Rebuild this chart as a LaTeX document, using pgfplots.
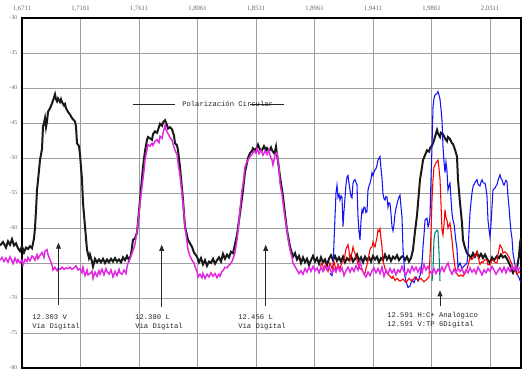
\documentclass[border=0pt]{standalone}
\usepackage{fontspec}
\setmainfont{Liberation Serif}
\newfontfamily\monofont{Liberation Mono}
\usepackage{pgfplots}
\pgfplotsset{compat=1.18}
\usetikzlibrary{arrows.meta}
\definecolor{cblack}{RGB}{25,25,25}
\definecolor{cmag}{RGB}{225,40,225}
\definecolor{cblue}{RGB}{20,20,245}
\definecolor{cred}{RGB}{250,0,0}
\definecolor{cteal}{RGB}{0,128,120}
\begin{document}
\begin{tikzpicture}
\begin{axis}[
  scale only axis, width=374.25pt, height=262.5pt,
  xmin=22, xmax=521, ymin=-80, ymax=-30,
  clip=false,
  axis line style={black, line width=0.8pt},
  xtick={22,80.5,139,197.5,256,314.5,373,431.5,490},
  xticklabels={{1,6711},{1,7161},{1,7611},{1,8061},{1,8511},{1,8961},{1,9411},{1,9861},{2,0311}},
  xticklabel pos=upper,
  ytick={-80,-75,-70,-65,-60,-55,-50,-45,-40,-35,-30},
  yticklabels={-80,-75,-70,-65,-60,-55,-50,-45,-40,-35,-30},
  grid=major, grid style={color=black!38, line width=0.7pt},
  major tick length=0pt,
  xticklabel style={color=black!60, font=\fontsize{5}{5}\selectfont, yshift=1pt},
  yticklabel style={color=black!60, font=\fontsize{4.3}{5}\selectfont},
]
\addplot[cblack, line width=1.5pt] coordinates {
(0,-62.5) (3,-62.0) (6,-62.8) (8,-61.9) (10,-62.4) (12,-61.6) (14,-62.5) (16,-62.2) (18,-62.9) (20,-63.3)
(22,-62.6) (24,-63.5) (26,-62.8) (28,-63.0) (30,-62.6) (32,-62.9) (34,-61.5) (35,-60.0) (36,-57.5) (37,-54.6)
(38,-53.2) (40,-50.3) (42,-48.7) (43,-45.5) (44,-45.0) (45,-44.3) (46,-45.6) (47,-44.8) (48,-43.4) (50,-42.9)
(52,-42.2) (53,-41.8) (55,-40.9) (56,-41.6) (57,-41.9) (58,-41.5) (60,-42.0) (61,-41.6) (62,-42.0) (64,-42.5)
(65,-42.3) (66,-42.9) (68,-43.4) (70,-43.8) (72,-44.3) (75,-44.8) (76,-45.5) (77,-47.9) (79,-48.3) (80,-49.5)
(82,-53.1) (83,-56.4) (85,-59.8) (87,-63.1) (89,-64.3) (90,-63.8) (92,-64.8) (93,-65.5) (95,-64.4) (97,-64.9)
(99,-64.5) (101,-64.9) (103,-64.4) (105,-65.0) (107,-64.5) (109,-64.9) (111,-64.4) (113,-64.8) (115,-64.3) (117,-64.8)
(119,-64.5) (121,-64.9) (123,-64.2) (125,-64.6) (127,-64.0) (129,-64.6) (131,-63.8) (133,-61.7) (135,-61.5) (137,-60.7)
(140,-56.0) (143,-51.3) (145,-49.0) (147,-47.4) (148,-47.0) (150,-47.2) (152,-47.4) (153,-46.6) (155,-46.2) (157,-46.4)
(158,-46.0) (160,-45.1) (162,-45.4) (163,-44.9) (165,-44.6) (167,-45.3) (168,-45.8) (170,-45.6) (172,-45.9) (174,-46.8)
(175,-47.9) (177,-48.2) (178,-48.9) (180,-51.3) (183,-56.0) (185,-59.8) (188,-61.7) (190,-62.2) (192,-62.7) (194,-63.5)
(197,-64.1) (199,-64.9) (201,-64.3) (203,-65.2) (205,-64.6) (207,-65.4) (209,-64.8) (211,-65.0) (213,-64.4) (215,-65.1)
(217,-64.6) (219,-64.2) (221,-64.8) (223,-63.7) (225,-64.4) (227,-63.8) (229,-64.2) (231,-63.4) (233,-63.6) (235,-62.3)
(237,-61.0) (240,-57.9) (243,-54.6) (245,-52.0) (247,-50.7) (248,-50.0) (250,-49.3) (252,-49.0) (253,-48.6) (255,-48.9)
(257,-48.5) (258,-48.1) (260,-48.8) (262,-48.9) (264,-48.3) (266,-48.9) (267,-48.6) (269,-49.0) (271,-48.5) (272,-48.9)
(274,-49.3) (275,-49.1) (276,-48.4) (277,-49.5) (279,-51.5) (280,-52.7) (283,-55.5) (285,-58.0) (287,-60.3) (290,-62.7)
(293,-64.1) (295,-63.6) (297,-64.5) (299,-64.0) (301,-65.0) (303,-64.2) (305,-64.9) (307,-64.4) (309,-65.3) (311,-64.6)
(313,-64.0) (315,-64.8) (317,-64.3) (319,-65.1) (321,-64.2) (323,-64.9) (325,-64.5) (327,-65.3) (329,-64.4) (331,-63.9)
(333,-64.6) (335,-64.0) (337,-64.7) (339,-64.2) (341,-64.8) (343,-64.1) (345,-64.9) (347,-64.3) (349,-64.6) (351,-64.0)
(353,-64.8) (355,-64.4) (357,-63.8) (359,-64.7) (361,-64.2) (363,-64.9) (365,-64.1) (367,-64.6) (369,-64.2) (371,-64.8)
(373,-64.0) (375,-64.5) (377,-64.1) (379,-64.9) (381,-64.3) (383,-64.6) (385,-63.8) (387,-64.5) (389,-64.0) (391,-64.7)
(393,-64.1) (395,-64.4) (397,-63.9) (399,-64.6) (401,-64.2) (403,-64.0) (405,-64.6) (407,-64.1) (409,-64.8) (411,-64.3)
(413,-63.1) (415,-60.5) (417,-58.2) (420,-53.1) (422,-51.3) (423,-50.3) (425,-49.6) (427,-48.9) (429,-49.1) (430,-48.6)
(432,-48.2) (433,-47.9) (435,-47.0) (437,-46.0) (438,-46.5) (440,-47.0) (441,-46.4) (443,-46.6) (445,-47.2) (447,-47.6)
(448,-47.0) (450,-47.3) (452,-47.9) (453,-48.0) (455,-48.8) (457,-49.8) (458,-53.1) (460,-56.4) (462,-59.3) (463,-61.7)
(465,-62.8) (467,-63.6) (469,-63.9) (471,-64.3) (473,-63.6) (475,-64.1) (477,-63.5) (479,-64.2) (481,-63.7) (483,-64.3)
(485,-63.8) (487,-64.4) (490,-65.0) (492,-64.2) (494,-64.6) (497,-64.0) (499,-64.3) (501,-63.8) (503,-64.2) (505,-64.0)
(507,-64.4) (509,-65.0) (511,-65.7) (513,-66.4) (515,-65.8) (517,-65.7) (519,-64.0) (520,-62.1) (521,-61.5)
};
\addplot[cblue, line width=0.8pt] coordinates {
(330,-66.5) (332,-66.8) (333,-66.0) (334,-62.0) (335,-58.4) (336,-55.0) (337,-53.9) (338,-55.6) (339,-55.2) (340,-56.0)
(341,-55.4) (342,-55.6) (343,-59.8) (344,-57.5) (345,-55.7) (346,-53.8) (347,-52.7) (348,-52.5) (349,-53.6) (350,-54.6)
(351,-55.5) (352,-55.7) (353,-53.6) (354,-53.2) (355,-53.1) (356,-53.5) (357,-53.8) (358,-58.4) (359,-60.5) (360,-61.7)
(361,-59.0) (362,-57.4) (363,-57.8) (364,-57.0) (365,-57.1) (366,-57.8) (367,-57.6) (368,-54.6) (369,-54.0) (370,-53.6)
(371,-53.0) (372,-52.1) (373,-52.5) (374,-52.0) (375,-51.7) (376,-51.5) (377,-51.0) (378,-50.3) (379,-50.0) (380,-49.8)
(381,-51.5) (382,-52.9) (383,-55.1) (384,-55.8) (385,-56.0) (386,-55.5) (387,-55.6) (388,-57.0) (389,-56.4) (390,-56.5)
(391,-58.0) (392,-59.8) (393,-60.4) (394,-59.5) (395,-58.0) (396,-57.2) (397,-56.6) (398,-56.0) (399,-55.6) (400,-55.3)
(401,-57.0) (402,-58.4) (403,-63.1) (404,-65.0) (405,-67.0) (406,-67.6) (408,-68.5) (410,-68.3) (412,-67.4) (414,-67.8)
(416,-67.0) (418,-67.6) (420,-66.8) (421,-66.0) (422,-65.0) (423,-62.7) (424,-61.0) (425,-58.9) (426,-58.7) (427,-58.6)
(428,-59.8) (429,-59.5) (430,-58.3) (431,-53.0) (432,-48.4) (433,-42.7) (434,-41.5) (435,-41.0) (436,-40.9) (437,-40.8)
(438,-40.5) (439,-41.0) (440,-41.6) (441,-43.0) (442,-44.6) (443,-48.4) (444,-50.5) (445,-52.1) (446,-50.6) (447,-51.9)
(448,-54.6) (449,-54.0) (450,-53.6) (451,-55.8) (452,-57.9) (453,-58.9) (454,-59.4) (455,-60.7) (456,-62.0) (457,-63.0)
(458,-65.6) (459,-65.3) (460,-65.0) (461,-65.4) (462,-65.8) (463,-65.6) (465,-65.3) (467,-65.0) (468,-63.5) (469,-60.5)
(470,-57.9) (471,-56.3) (472,-55.0) (473,-54.1) (474,-53.8) (475,-53.5) (476,-53.3) (477,-53.1) (478,-53.7) (479,-53.9)
(480,-54.0) (481,-53.4) (482,-53.1) (483,-53.5) (484,-53.6) (485,-53.6) (486,-54.3) (487,-55.5) (488,-58.9) (489,-60.2)
(490,-61.3) (491,-59.5) (492,-57.0) (493,-54.6) (494,-54.4) (495,-54.3) (496,-54.0) (497,-53.8) (498,-53.2) (499,-52.8)
(500,-52.4) (501,-52.9) (502,-53.1) (503,-53.6) (504,-53.9) (505,-53.5) (506,-53.2) (507,-53.4) (508,-55.5) (509,-57.0)
(510,-58.9) (511,-60.5) (512,-61.5) (513,-63.6) (514,-64.5) (515,-65.3) (516,-66.0) (517,-66.6) (519,-67.1) (520,-67.5)
(521,-67.8)
};
\addplot[cred, line width=0.8pt] coordinates {
(320,-65.5) (322,-65.0) (324,-66.0) (326,-65.3) (328,-66.2) (330,-65.0) (332,-65.8) (334,-64.8) (336,-66.0) (338,-65.2)
(340,-65.8) (342,-64.9) (344,-64.7) (345,-63.8) (346,-63.0) (347,-62.7) (348,-62.4) (349,-63.2) (350,-64.7) (351,-64.0)
(352,-63.5) (353,-62.7) (354,-63.3) (355,-63.6) (356,-64.2) (357,-64.6) (358,-65.2) (360,-65.8) (362,-66.0) (364,-66.5)
(365,-66.5) (366,-65.8) (368,-64.7) (369,-63.8) (370,-63.1) (371,-62.8) (372,-62.7) (373,-62.0) (374,-62.5) (375,-62.7)
(376,-62.0) (377,-61.3) (378,-60.3) (379,-60.5) (380,-60.1) (381,-61.5) (382,-62.7) (383,-64.7) (385,-65.8) (387,-66.4)
(389,-66.7) (390,-66.9) (392,-67.2) (393,-66.9) (395,-67.5) (397,-67.2) (400,-67.6) (403,-67.3) (406,-67.8) (409,-67.2)
(412,-67.6) (415,-67.0) (418,-67.5) (421,-67.2) (424,-67.7) (427,-67.3) (429,-67.0) (430,-64.0) (431,-60.7) (432,-56.0)
(433,-53.1) (434,-51.3) (435,-51.0) (436,-50.7) (437,-50.5) (438,-50.3) (439,-51.5) (440,-53.0) (441,-56.5) (442,-60.3)
(443,-61.0) (444,-59.5) (445,-57.4) (446,-58.5) (447,-58.9) (448,-60.0) (449,-59.6) (450,-59.3) (451,-60.5) (452,-61.7)
(453,-63.3) (454,-64.5) (455,-65.6) (457,-66.6) (459,-66.9) (461,-66.7) (463,-66.9) (465,-66.5) (467,-65.9) (469,-64.8)
(470,-64.3) (472,-64.5) (473,-64.3) (475,-63.9) (477,-63.4) (478,-64.1) (480,-65.2) (482,-64.8) (483,-64.9) (485,-64.5)
(487,-64.6) (488,-65.3) (490,-65.2) (492,-64.6) (493,-64.6) (495,-64.9) (497,-65.0) (498,-63.8) (500,-62.4) (502,-62.9)
(503,-63.6) (505,-63.4) (507,-63.7) (509,-64.2) (510,-64.5) (512,-65.2) (513,-65.6) (515,-66.0) (517,-66.6) (519,-66.2)
(520,-66.4)
};
\addplot[cteal, line width=0.8pt] coordinates {
(432,-67.6) (433,-66.0) (434,-61.7) (435,-60.7) (436,-60.5) (437,-60.3) (438,-60.5) (439,-63.5) (440,-67.6)
};
\addplot[cmag, line width=1.1pt] coordinates {
(0,-64.6) (2,-64.2) (4,-64.8) (6,-64.3) (8,-64.9) (10,-64.1) (12,-64.7) (13,-65.1) (15,-64.3) (17,-64.9)
(18,-64.5) (20,-65.0) (22,-64.6) (23,-65.3) (25,-64.5) (27,-64.8) (28,-64.2) (30,-64.7) (32,-64.0) (33,-64.1)
(35,-64.6) (37,-63.8) (38,-64.4) (40,-63.9) (42,-63.5) (44,-64.2) (45,-63.3) (47,-63.1) (48,-63.8) (50,-64.5)
(52,-65.3) (53,-66.0) (55,-65.6) (57,-66.1) (58,-65.8) (60,-65.9) (62,-65.6) (64,-65.9) (66,-65.7) (68,-65.8)
(70,-65.6) (72,-65.9) (74,-65.7) (76,-65.4) (78,-66.0) (80,-65.8) (82,-66.4) (83,-65.6) (85,-66.8) (87,-66.0)
(88,-66.7) (90,-66.5) (92,-66.2) (93,-67.2) (95,-66.3) (97,-66.9) (99,-66.1) (100,-66.6) (102,-65.9) (104,-66.7)
(106,-65.8) (107,-66.2) (109,-66.6) (111,-66.0) (113,-67.0) (115,-66.2) (117,-66.8) (119,-65.9) (120,-66.4) (122,-66.6)
(124,-66.0) (126,-66.5) (127,-65.6) (128,-65.0) (130,-64.4) (132,-63.6) (134,-62.8) (135,-62.3) (137,-60.5) (138,-59.3)
(140,-56.5) (142,-54.1) (144,-51.8) (145,-50.3) (147,-48.8) (148,-48.1) (150,-48.3) (152,-47.9) (153,-48.2) (155,-47.6)
(157,-47.4) (159,-47.8) (160,-46.9) (162,-47.2) (163,-46.5) (165,-45.3) (166,-46.0) (168,-46.5) (170,-47.1) (172,-47.4)
(173,-48.0) (175,-48.9) (177,-49.5) (178,-50.7) (180,-52.5) (182,-55.0) (184,-58.0) (185,-59.8) (187,-62.0) (188,-63.1)
(190,-64.0) (192,-64.6) (194,-65.0) (195,-65.5) (197,-66.2) (198,-67.0) (200,-66.6) (202,-67.1) (203,-66.5) (205,-67.2)
(207,-66.6) (209,-67.0) (211,-66.4) (213,-66.9) (215,-66.5) (217,-67.1) (219,-66.6) (220,-66.9) (222,-66.2) (223,-66.1)
(225,-65.6) (227,-65.7) (229,-65.3) (230,-65.2) (232,-64.8) (233,-64.4) (235,-63.5) (237,-61.7) (239,-59.0) (240,-57.4)
(242,-54.6) (243,-53.8) (245,-51.3) (247,-50.5) (248,-50.3) (250,-49.8) (252,-49.5) (254,-49.0) (256,-49.3) (257,-48.6)
(259,-49.4) (261,-48.9) (263,-49.6) (265,-49.0) (267,-49.5) (269,-48.8) (270,-49.6) (272,-50.3) (273,-51.0) (275,-49.6)
(277,-49.2) (279,-51.5) (280,-53.6) (282,-55.2) (283,-56.4) (285,-58.5) (287,-60.3) (288,-61.5) (290,-63.1) (292,-64.2)
(293,-65.0) (295,-65.5) (297,-66.0) (299,-66.5) (301,-66.1) (303,-66.6) (305,-65.8) (307,-66.3) (309,-65.6) (311,-66.2)
(313,-65.5) (315,-66.1) (317,-65.7) (319,-66.4) (321,-65.6) (323,-66.2) (325,-65.4) (327,-66.0) (329,-65.5) (330,-65.9)
(332,-66.5) (334,-65.8) (336,-66.3) (338,-65.5) (340,-66.2) (342,-65.7) (344,-66.8) (346,-66.1) (348,-65.6) (350,-66.3)
(352,-65.7) (354,-66.2) (356,-65.4) (358,-66.0) (360,-64.8) (362,-65.9) (364,-66.6) (366,-67.0) (368,-66.3) (370,-66.8)
(372,-66.1) (374,-65.7) (376,-66.4) (378,-65.8) (380,-66.5) (382,-65.6) (384,-66.9) (386,-66.0) (388,-66.6) (390,-65.8)
(392,-66.4) (394,-65.9) (396,-66.7) (398,-66.0) (400,-66.3) (402,-65.5) (404,-66.2) (406,-66.7) (408,-65.9) (410,-66.4)
(412,-65.5) (414,-66.1) (416,-65.6) (418,-66.3) (420,-65.7) (422,-66.4) (424,-65.2) (426,-66.0) (428,-65.5) (430,-66.2)
(432,-66.6) (434,-65.8) (436,-66.5) (438,-65.9) (440,-66.3) (442,-65.6) (444,-66.2) (446,-65.5) (448,-65.0) (450,-66.0)
(452,-66.6) (454,-65.9) (456,-66.4) (458,-65.7) (460,-66.2) (462,-65.8) (464,-66.6) (466,-66.0) (468,-66.4) (470,-65.7)
(472,-66.3) (474,-65.9) (476,-66.5) (478,-65.6) (480,-66.1) (482,-66.7) (484,-66.0) (486,-66.4) (488,-65.8) (490,-66.2)
(492,-65.5) (494,-66.0) (496,-66.6) (498,-66.1) (500,-65.7) (502,-66.3) (504,-65.6) (506,-66.4) (508,-65.7) (510,-66.2)
(512,-65.5) (514,-66.0) (516,-65.4) (518,-66.1) (520,-65.6)
};
% annotations
\draw[black!85, line width=0.6pt, -{Triangle[length=4.5pt,width=3.6pt]}] (axis cs:58.5,-71) -- (axis cs:58.5,-62.1);
\draw[black!85, line width=0.6pt, -{Triangle[length=4.5pt,width=3.6pt]}] (axis cs:161.7,-71.3) -- (axis cs:161.7,-62.4);
\draw[black!85, line width=0.6pt, -{Triangle[length=4.5pt,width=3.6pt]}] (axis cs:265.7,-71.1) -- (axis cs:265.7,-62.4);
\draw[black!85, line width=0.6pt, -{Triangle[length=4.5pt,width=3.6pt]}] (axis cs:440,-71.2) -- (axis cs:440,-68.9);
\draw[black!85, line width=0.6pt] (axis cs:133,-42.29) -- (axis cs:175,-42.29);
\draw[black!85, line width=0.6pt] (axis cs:250,-42.29) -- (axis cs:284,-42.29);
\tikzset{lbl/.style={anchor=west, inner sep=0pt, text=black!85, font=\monofont\fontsize{5.4}{6}\selectfont}}
\node[lbl] at (axis cs:182,-42.29) {Polarización Circular};
\node[lbl] at (axis cs:32,-72.71) {12.303 V};
\node[lbl] at (axis cs:32,-74.14) {Vía Digital};
\node[lbl] at (axis cs:135,-72.71) {12.380 L};
\node[lbl] at (axis cs:135,-74.14) {Vía Digital};
\node[lbl] at (axis cs:238,-72.71) {12.456 L};
\node[lbl] at (axis cs:238,-74.14) {Vía Digital};
\node[lbl] at (axis cs:387,-72.57) {12.591 H:C+ Analógico};
\node[lbl] at (axis cs:387,-73.86) {12.591 V:TP 6Digital};
\coordinate (bbA) at (axis cs:0,-81.29);
\coordinate (bbB) at (axis cs:529,-27.43);
\end{axis}
\pgfresetboundingbox
\path (bbA) rectangle (bbB);
\end{tikzpicture}
\end{document}
